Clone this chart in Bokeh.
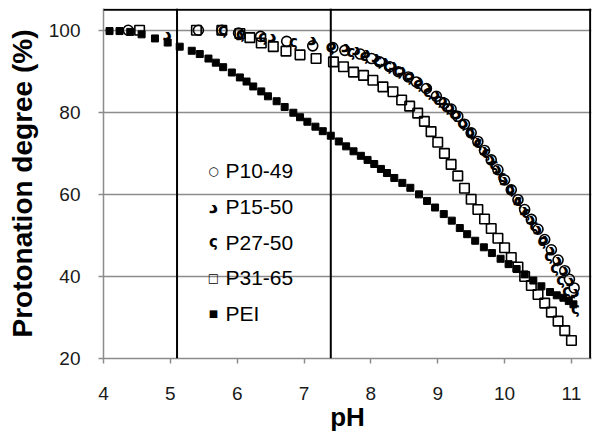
from bokeh.plotting import figure
from bokeh.models import Span, Label, FixedTicker, Range1d
from bokeh.core.properties import value
from bokeh.embed import file_html
from bokeh.resources import INLINE

# ---- data ----
ph_p1049 = [4.37, 5.42, 5.77, 6.02, 6.35, 6.74, 7.13, 7.43, 7.61, 7.84, 8.01, 8.13, 8.28, 8.41,
            8.56, 8.68, 8.83, 8.98, 9.10, 9.20, 9.30, 9.40, 9.50, 9.60, 9.70, 9.80, 9.90, 10.00,
            10.10, 10.20, 10.30, 10.40, 10.50, 10.60, 10.70, 10.80, 10.90, 10.97, 11.04]
deg_p1049 = [100, 100, 100, 99.3, 98.5, 97.3, 96.2, 95.8, 95.1, 94.2, 93.1, 92.3, 91.1, 89.9,
             88.6, 87.4, 85.8, 83.9, 82.2, 80.8, 79.0, 77.1, 75.0, 72.9, 70.7, 68.4, 66.0, 63.5,
             61.1, 58.7, 56.3, 53.9, 51.5, 49.0, 46.5, 44.0, 41.4, 39.3, 37.2]

ph_p1550 = [4.95, 6.04, 6.52, 7.12, 7.42, 7.62, 7.78, 7.93, 8.07, 8.20, 8.33, 8.46, 8.59, 8.72,
            8.85, 8.97, 9.08, 9.19, 9.29, 9.39, 9.49, 9.59, 9.69, 9.79, 9.89, 9.99, 10.09, 10.19,
            10.29, 10.39, 10.49, 10.59, 10.69, 10.79, 10.89, 10.98, 11.05]
deg_p1550 = [99.4, 99.4, 98.8, 98.2, 96.8, 96.3, 95.6, 94.9, 94.0, 93.0, 92.0, 90.8, 89.5, 88.1,
             86.6, 85.0, 83.4, 81.7, 80.0, 78.0, 75.8, 73.6, 71.3, 69.0, 66.6, 64.1, 61.7, 59.2,
             56.8, 54.4, 52.0, 49.5, 47.0, 44.5, 42.0, 39.4, 36.8]

ph_p2750 = [5.78, 6.05, 6.38, 6.84, 7.39, 7.70, 7.90, 8.10, 8.25, 8.40, 8.55, 8.70, 8.85, 9.00,
            9.12, 9.24, 9.36, 9.48, 9.60, 9.72, 9.84, 9.96, 10.08, 10.20, 10.32, 10.44, 10.56,
            10.66, 10.75, 10.84, 10.93, 11.00, 11.06]
deg_p2750 = [100, 99.0, 98.3, 97.2, 95.9, 94.8, 93.7, 92.5, 91.3, 90.0, 88.5, 86.8, 85.0, 83.0,
             81.3, 79.5, 77.4, 75.1, 72.6, 70.0, 67.2, 64.3, 61.3, 58.4, 55.5, 52.3, 48.6,
             45.0, 42.0, 39.2, 36.5, 34.2, 32.0]

ph_p3165 = [4.54, 5.39, 5.77, 6.04, 6.19, 6.36, 6.54, 6.73, 6.94, 7.18, 7.44, 7.59, 7.74, 7.89,
            8.03, 8.18, 8.33, 8.46, 8.58, 8.70, 8.80, 8.90, 9.00, 9.10, 9.20, 9.30, 9.40, 9.50,
            9.60, 9.70, 9.80, 9.90, 10.00, 10.10, 10.20, 10.30, 10.40, 10.50, 10.60, 10.70,
            10.80, 10.90, 11.00]
deg_p3165 = [100, 100, 100, 99.2, 98.2, 96.9, 96.0, 94.9, 94.0, 93.1, 92.3, 91.1, 89.8, 89.0,
             87.8, 86.2, 85.0, 83.0, 81.5, 79.8, 77.8, 75.3, 72.7, 70.0, 67.3, 64.5, 61.5, 58.8,
             56.3, 54.0, 51.7, 49.3, 47.0, 44.6, 42.3, 40.0, 37.8, 35.6, 33.5, 31.3,
             29.1, 26.8, 24.4]

ph_pei = [4.09, 4.24, 4.40, 4.57, 4.77, 4.96, 5.14, 5.32, 5.44, 5.57, 5.68, 5.79, 5.92, 6.04,
          6.14, 6.24, 6.36, 6.46, 6.59, 6.71, 6.84, 6.94, 7.05, 7.17, 7.28, 7.40, 7.52, 7.63,
          7.74, 7.85, 7.95, 8.05, 8.15, 8.24, 8.35, 8.47, 8.59, 8.72, 8.84, 8.96, 9.09, 9.21,
          9.33, 9.44, 9.56, 9.69, 9.81, 9.94, 10.06, 10.18, 10.30, 10.43, 10.55, 10.68, 10.78,
          10.88, 10.96, 11.03]
deg_pei = [99.8, 99.8, 99.6, 99.0, 98.0, 97.0, 96.0, 95.0, 94.2, 93.1, 92.1, 91.0, 89.7, 88.5,
           87.5, 86.3, 85.1, 83.9, 82.7, 81.3, 79.9, 78.8, 77.7, 76.5, 75.4, 74.3, 72.9, 71.7,
           70.5, 69.4, 68.4, 67.4, 66.2, 65.2, 64.0, 62.8, 61.6, 60.0, 58.4, 56.8, 55.2, 53.6,
           51.8, 50.3, 48.7, 47.1, 45.7, 44.3, 43.0, 41.8, 40.5, 39.0, 37.6, 36.2, 35.4,
           34.8, 34.0, 33.2]

ref_ph = [5.1, 7.4]
x_ticks = [4, 5, 6, 7, 8, 9, 10, 11]
y_ticks = [20, 40, 60, 80, 100]
x_min, x_max = 4, 11.3
y_min, y_max = 20, 105.3
border_x, border_y = 11.28, 105
series_names = ["P10-49", "P15-50", "P27-50", "P31-65", "PEI"]
series_symbols = ["\u25CB", "\u062F", "\u03C2", "\u25A1", "\u25A0"]

GRAY = "#8c8c8c"
FONT = "Liberation Sans"

p = figure(width=600, height=436, output_backend="svg", toolbar_location=None,
           x_range=Range1d(x_min, x_max), y_range=Range1d(y_min, y_max),
           min_border_left=103, min_border_right=9, min_border_top=8, min_border_bottom=78)

p.background_fill_color = "white"
p.border_fill_color = "white"
p.outline_line_color = None

p.xgrid.visible = False
p.ygrid.grid_line_color = GRAY
p.ygrid.grid_line_width = 1.5
p.xaxis.ticker = FixedTicker(ticks=x_ticks)
p.yaxis.ticker = FixedTicker(ticks=y_ticks)

for ax in (p.xaxis[0], p.yaxis[0]):
    ax.axis_line_color = GRAY
    ax.axis_line_width = 1.5
    ax.major_tick_line_color = GRAY
    ax.major_tick_line_width = 1.5
    ax.major_tick_in = 0
    ax.major_tick_out = 5
    ax.minor_tick_line_color = None
    ax.major_label_text_font = FONT
    ax.major_label_text_font_size = "19px"
    ax.major_label_text_color = "#1a1a1a"
    ax.axis_label_text_font = FONT
    ax.axis_label_text_font_style = "bold"
    ax.axis_label_text_color = "black"

p.xaxis.axis_label = "pH"
p.xaxis.axis_label_text_font_size = "26px"
p.xaxis.major_label_standoff = 23
p.xaxis.axis_label_standoff = -1

p.yaxis.axis_label = "Protonation degree (%)"
p.yaxis.axis_label_text_font_size = "28px"
p.yaxis.major_label_standoff = 18
p.yaxis.axis_label_standoff = 8

# black plot-area border, top and right
p.add_layout(Span(location=border_y, dimension="width", line_color="black", line_width=2))
p.add_layout(Span(location=border_x, dimension="height", line_color="black", line_width=2))

for loc in ref_ph:
    p.add_layout(Span(location=loc, dimension="height", line_color="black", line_width=2))

# series
p.scatter(ph_p1049, deg_p1049, marker="circle", size=10, fill_color=None,
          line_color="black", line_width=1.6)
p.text(ph_p1550, deg_p1550, text=value(series_symbols[1]), text_font=value("DejaVu Sans"),
       text_font_style="bold", text_font_size="19px", text_align="center",
       text_baseline="middle", text_color="black")
p.text(ph_p2750, deg_p2750, text=value(series_symbols[2]), text_font=value("DejaVu Sans"),
       text_font_style="bold", text_font_size="15px", text_align="center",
       text_baseline="middle", text_color="black")
p.scatter(ph_p3165, deg_p3165, marker="square", size=9.5, fill_color=None,
          line_color="black", line_width=1.6)
p.scatter(ph_pei, deg_pei, marker="square", size=7, fill_color="black",
          line_color="black", line_width=1)

# legend (inside the plot area, no frame)
row0 = 188
row_step = 35.8
sym_sizes = ["12px", "19px", "15px", "12px", "10px"]
for i, (name, sym) in enumerate(zip(series_names, series_symbols)):
    yy = row0 - i * row_step
    p.add_layout(Label(x=110, y=yy, x_units="screen", y_units="screen", text=sym,
                       text_font="DejaVu Sans", text_font_size=sym_sizes[i],
                       text_font_style="bold",
                       text_align="center", text_baseline="middle", text_color="black"))
    p.add_layout(Label(x=122, y=yy, x_units="screen", y_units="screen", text=name,
                       text_font=FONT, text_font_size="21px",
                       text_align="left", text_baseline="middle", text_color="black"))

open("out.html", "w").write(file_html(p, INLINE))
